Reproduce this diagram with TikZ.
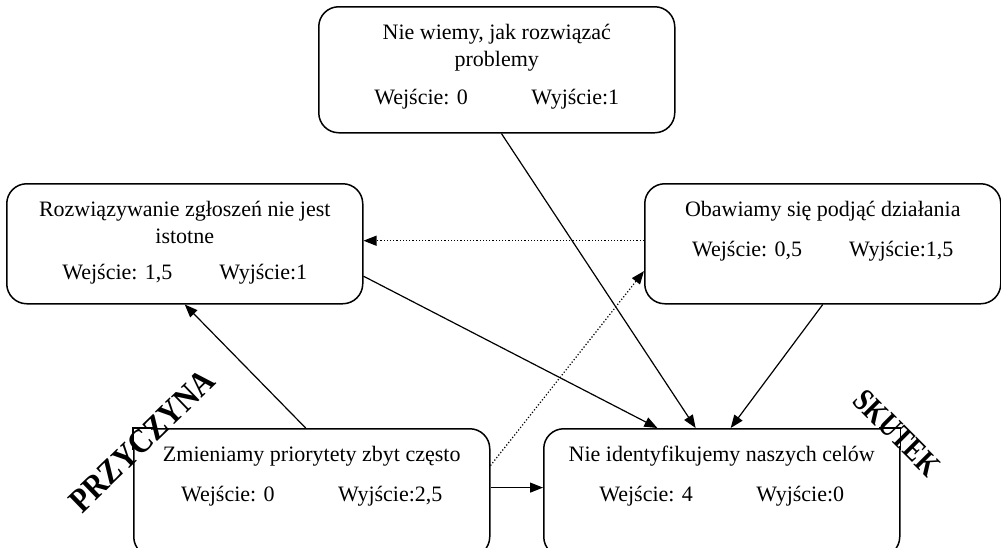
\documentclass[tikz,border=0pt]{standalone}
\usepackage{fontspec}
\setmainfont{Liberation Serif}
\usepackage{tikz}
\usetikzlibrary{calc}
\usetikzlibrary{arrows.meta}

% box contents: height, title, extra gap, in, out
\newcommand{\cardtext}[5]{%
  \begin{minipage}[c][#1][t]{178pt}%
    \centering\fontsize{11}{13.75}\selectfont
    \rule{0pt}{16.25pt}#2\\[#3]%
    \makebox[78.5pt][l]{Wejście: #4}Wyjście:#5%
  \end{minipage}}

\begin{document}
\begin{tikzpicture}[x=0.5pt,y=-0.5pt,
    card/.style={draw,line width=0.75pt,rounded corners=10pt,inner sep=0pt,anchor=north west},
    edge/.style={line width=0.75pt},
    link/.style={line width=0.6pt,-{Triangle[length=6.5pt,width=5pt]}},
    weak/.style={link,densely dotted},
    tag/.style={inner sep=0pt}]

    \useasboundingbox (0,0) rectangle (1001,547);

    \node [card] (unknown)    at (318,6)   {\cardtext{63pt}{Nie wiemy, jak rozwiązać\\problemy}{5pt}{0}{1}};
    \node [card] (tickets)    at (6,183)   {\cardtext{60pt}{Rozwiązywanie zgłoszeń nie jest\\istotne}{4pt}{1,5}{1}};
    \node [card] (fear)       at (644,183) {\cardtext{60pt}{Obawiamy się podjąć działania}{6.25pt}{0,5}{1,5}};
    \node [card] (priorities) at (133,428) {\cardtext{64pt}{Zmieniamy priorytety zbyt często}{6.25pt}{0}{2,5}};
    \node [card] (goals)      at (543,428) {\cardtext{64pt}{Nie identyfikujemy naszych celów}{6.25pt}{4}{0}};

    % square corners under the tags
    \fill [white] (priorities.north west) rectangle +(18,18);
    \draw [edge] ($(priorities.north west)+(0,22)$) |- ($(priorities.north west)+(22,0)$);
    \fill [white] (goals.north east) rectangle +(-18,18);
    \draw [edge] ($(goals.north east)+(0,22)$) |- ($(goals.north east)+(-22,0)$);

    \draw [link] ($(unknown.south west)!0.513!(unknown.south east)$) -- ($(goals.north west)!0.427!(goals.north east)$);
    \draw [link] ($(tickets.north east)!0.767!(tickets.south east)$) -- ($(goals.north west)!0.32!(goals.north east)$);
    \draw [link] (fear.south) -- ($(goals.north west)!0.525!(goals.north east)$);
    \draw [link] ($(priorities.north west)!0.483!(priorities.north east)$) -- (tickets.south);
    \draw [link] ($(priorities.north east)!0.46!(priorities.south east)$) -- ($(goals.north west)!0.46!(goals.south west)$);

    \draw [weak] ($(fear.north west)!0.475!(fear.south west)$) -- ($(tickets.north east)!0.475!(tickets.south east)$);
    \draw [weak] ($(priorities.north east)!0.29!(priorities.south east)$) -- ($(fear.north west)!0.725!(fear.south west)$);

    \node [tag,rotate=44,xscale=0.88,font=\fontsize{17}{17}\selectfont\bfseries] (cause) at (142,441) {PRZYCZYNA};
    \node [tag,rotate=-45,xscale=0.8,font=\fontsize{16}{16}\selectfont\bfseries] (effect) at (897,433) {SKUTEK};

  \end{tikzpicture}
\end{document}
